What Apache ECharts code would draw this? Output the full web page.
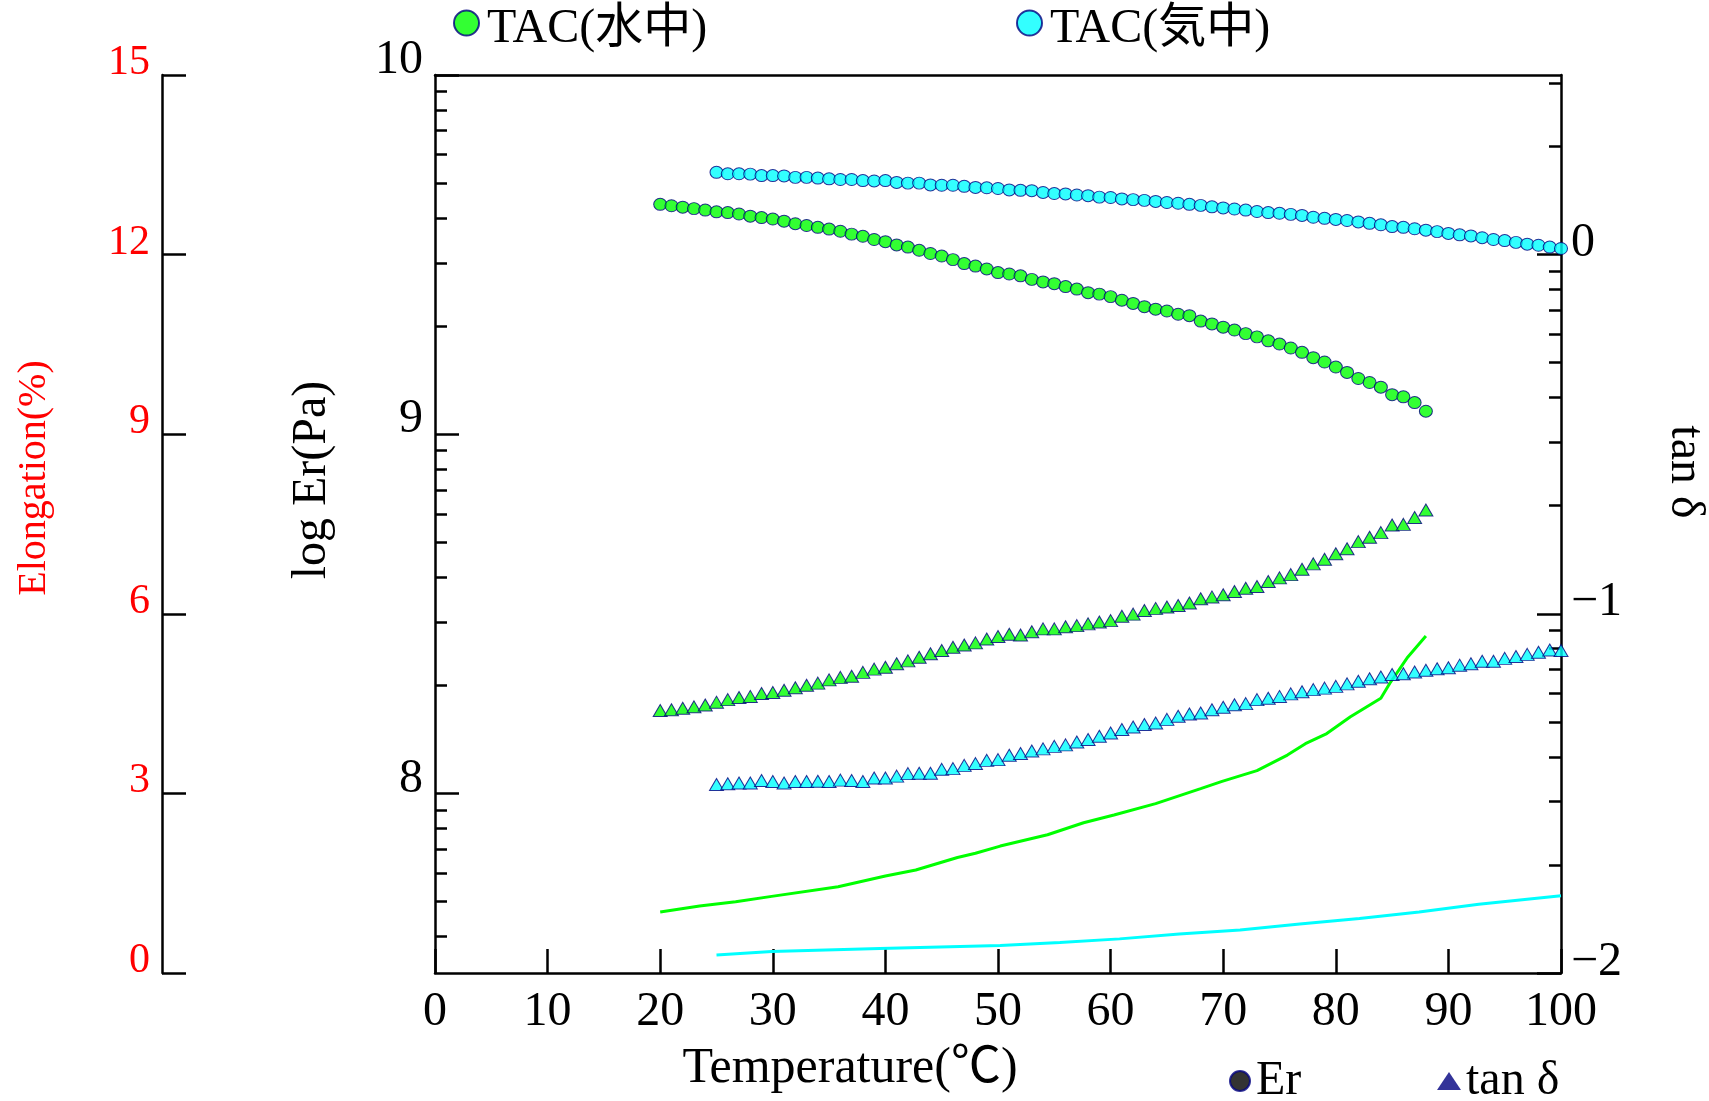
<!DOCTYPE html>
<html><head><meta charset="utf-8">
<script src="https://cdn.jsdelivr.net/npm/echarts@6/dist/echarts.min.js"></script>
<style>html,body{margin:0;padding:0;background:#fff}#c{width:1709px;height:1101px}</style>
</head><body><div id="c"></div>
<script>
const FONT = "'Liberation Serif','Noto Sans CJK JP',serif";

// temperatures (°C)
const tempWater = [20,21,22,23,24,25,26,27,28,29,30,31,32,33,34,35,36,37,38,39,40,41,42,43,44,45,46,47,48,49,50,51,52,53,54,55,56,57,58,59,60,61,62,63,64,65,66,67,68,69,70,71,72,73,74,75,76,77,78,79,80,81,82,83,84,85,86,87,88];
const tempAir = [25,26,27,28,29,30,31,32,33,34,35,36,37,38,39,40,41,42,43,44,45,46,47,48,49,50,51,52,53,54,55,56,57,58,59,60,61,62,63,64,65,66,67,68,69,70,71,72,73,74,75,76,77,78,79,80,81,82,83,84,85,86,87,88,89,90,91,92,93,94,95,96,97,98,99,100];

// log Er (Pa)
const erWater = [9.640,9.636,9.632,9.628,9.624,9.619,9.617,9.613,9.607,9.603,9.599,9.593,9.586,9.581,9.576,9.571,9.565,9.557,9.551,9.542,9.536,9.527,9.521,9.512,9.503,9.496,9.486,9.475,9.468,9.460,9.450,9.446,9.441,9.431,9.424,9.419,9.411,9.404,9.394,9.390,9.383,9.373,9.364,9.355,9.348,9.343,9.334,9.330,9.315,9.307,9.298,9.290,9.280,9.271,9.260,9.251,9.240,9.228,9.213,9.201,9.187,9.172,9.155,9.144,9.131,9.110,9.104,9.088,9.064];
const erAir = [9.729,9.725,9.725,9.724,9.720,9.720,9.719,9.715,9.715,9.713,9.711,9.709,9.709,9.706,9.705,9.706,9.701,9.699,9.699,9.694,9.693,9.693,9.690,9.687,9.686,9.684,9.680,9.679,9.678,9.673,9.670,9.669,9.666,9.664,9.660,9.659,9.655,9.653,9.651,9.648,9.645,9.643,9.640,9.637,9.633,9.630,9.627,9.624,9.620,9.617,9.615,9.612,9.609,9.604,9.601,9.598,9.595,9.591,9.587,9.583,9.578,9.576,9.572,9.568,9.564,9.559,9.555,9.552,9.547,9.542,9.539,9.534,9.529,9.526,9.521,9.517];

// log tan δ
const tanWater = [-1.269,-1.267,-1.263,-1.259,-1.254,-1.246,-1.239,-1.233,-1.230,-1.222,-1.219,-1.213,-1.206,-1.199,-1.193,-1.184,-1.177,-1.174,-1.163,-1.154,-1.149,-1.139,-1.131,-1.121,-1.111,-1.102,-1.093,-1.087,-1.081,-1.070,-1.063,-1.057,-1.059,-1.050,-1.042,-1.042,-1.036,-1.033,-1.028,-1.023,-1.019,-1.007,-1.001,-0.991,-0.985,-0.981,-0.977,-0.970,-0.958,-0.953,-0.947,-0.938,-0.929,-0.924,-0.910,-0.900,-0.891,-0.876,-0.861,-0.848,-0.833,-0.819,-0.799,-0.787,-0.774,-0.753,-0.751,-0.732,-0.711];
const tanAir = [-1.475,-1.473,-1.471,-1.471,-1.464,-1.467,-1.471,-1.467,-1.467,-1.466,-1.467,-1.463,-1.464,-1.467,-1.457,-1.457,-1.452,-1.445,-1.444,-1.444,-1.433,-1.431,-1.422,-1.417,-1.408,-1.406,-1.394,-1.389,-1.382,-1.376,-1.369,-1.365,-1.357,-1.350,-1.341,-1.332,-1.322,-1.315,-1.308,-1.304,-1.294,-1.285,-1.279,-1.276,-1.267,-1.260,-1.253,-1.250,-1.239,-1.235,-1.230,-1.223,-1.217,-1.211,-1.207,-1.202,-1.195,-1.188,-1.181,-1.176,-1.169,-1.167,-1.162,-1.157,-1.153,-1.150,-1.143,-1.139,-1.132,-1.132,-1.124,-1.119,-1.113,-1.107,-1.101,-1.102];

// Elongation (%)
const elongTempWater = [20.0,23.5,26.7,29.9,35.8,40.0,42.7,46.4,48.0,50.2,54.4,57.6,60.3,64.0,68.0,69.9,73.0,75.7,77.3,79.2,81.3,84.0,84.8,86.4,88.0];
const elongWater = [1.02,1.12,1.19,1.28,1.44,1.62,1.72,1.93,2.00,2.12,2.31,2.51,2.64,2.83,3.08,3.20,3.38,3.64,3.83,4.00,4.28,4.59,4.84,5.28,5.63];
const elongTempAir = [25.0,29.9,39.5,50.2,55.5,60.8,66.1,71.5,76.8,82.1,87.4,92.7,100.0];
const elongAir = [0.30,0.36,0.41,0.46,0.51,0.57,0.65,0.72,0.82,0.91,1.02,1.15,1.29];

// axis tick values
const xTicks = [0,10,20,30,40,50,60,70,80,90,100];
const erMajor = [8, 9, 10];
const erMinor = [7.602,7.699,7.778,7.845,7.903,7.954,8.301,8.477,8.602,8.699,8.778,8.845,8.903,8.954,9.301,9.477,9.602,9.699,9.778,9.845,9.903,9.954];
const tanMajor = [-2, -1, 0];
const tanMinor = [-1.699,-1.523,-1.398,-1.301,-1.222,-1.155,-1.097,-1.046,-0.699,-0.523,-0.398,-0.301,-0.222,-0.155,-0.097,-0.046,0.301,0.477];

const NAVY = '#000080', GREEN = '#00ff00', CYAN = '#00ffff';
const ELLIPSE = 'path://M0 50A50 50 0 1 1 100 50A50 50 0 1 1 0 50Z';
// legend icon: same ellipse, sitting in the upper part of a taller box
const ELLIPSE_HIGH = 'path://M0 148M0 50A50 50 0 1 1 100 50A50 50 0 1 1 0 50Z';
const pairs = (xs, ys) => xs.map((x, i) => [x, ys[i]]);

const xLine = { show: true, onZero: false, lineStyle: { color: '#000', width: 2.5 } };
const yLine = { show: true, lineStyle: { color: '#000', width: 2.5 } };
const tickStyle = { color: '#000', width: 2.5 };

const chart = echarts.init(document.getElementById('c'), null, { renderer: 'canvas' });
chart.setOption({
  animation: false,
  backgroundColor: '#fff',
  textStyle: { fontFamily: FONT },
  grid: { left: 435, top: 75, right: 148, bottom: 128, containLabel: false, outerBoundsMode: 'none' },
  legend: [
    { data: [{ name: 'TAC(水中)', icon: ELLIPSE_HIGH, itemStyle: { color: GREEN, borderColor: NAVY, borderWidth: 2 } }],
      left: 453, top: 5, padding: 0, itemWidth: 31, itemHeight: 37, selectedMode: false,
      textStyle: { fontSize: 48, color: '#000', fontFamily: FONT } },
    { data: [{ name: 'TAC(気中)', icon: ELLIPSE_HIGH, itemStyle: { color: CYAN, borderColor: NAVY, borderWidth: 2 } }],
      left: 1016, top: 5, padding: 0, itemWidth: 31, itemHeight: 37, selectedMode: false,
      textStyle: { fontSize: 48, color: '#000', fontFamily: FONT } },
    { data: [{ name: 'Er', icon: ELLIPSE, itemStyle: { color: '#000', borderColor: NAVY, borderWidth: 2 } }],
      left: 1229, top: 1057, padding: 0, itemWidth: 22, itemHeight: 20, selectedMode: false,
      textStyle: { fontSize: 48, color: '#000', fontFamily: FONT, padding: [10, 0, 0, 0] } },
    { data: [{ name: 'tan δ', icon: 'triangle', itemStyle: { color: NAVY, borderWidth: 0 } }],
      left: 1437, top: 1057, padding: 0, itemWidth: 24, itemHeight: 18, selectedMode: false,
      textStyle: { fontSize: 48, color: '#000', fontFamily: FONT, padding: [10, 0, 0, 0] } }
  ],
  xAxis: [
    { type: 'value', position: 'bottom', min: 0, max: 100, interval: 10,
      axisLine: xLine, axisTick: { inside: true, length: 24, lineStyle: tickStyle, customValues: xTicks },
      axisLabel: { fontSize: 48, color: '#000', margin: 15, fontFamily: FONT, customValues: xTicks },
      splitLine: { show: false },
      name: 'Temperature(℃)', nameLocation: 'middle', nameGap: 71,
      nameTextStyle: { fontSize: 50, color: '#000', fontFamily: FONT, padding: [0, 296, 0, 0] } },
    { type: 'value', position: 'top', min: 0, max: 100, interval: 10,
      axisLine: xLine, axisTick: { show: false }, axisLabel: { show: false }, splitLine: { show: false } }
  ],
  yAxis: [
    { type: 'value', position: 'left', min: 7.5, max: 10,
      axisLine: yLine, axisTick: { inside: true, length: 24, lineStyle: tickStyle, customValues: erMajor },
      axisLabel: { customValues: erMajor, fontSize: 48, color: '#000', fontFamily: FONT, margin: 12, verticalAlign: 'bottom', lineHeight: 29 },
      splitLine: { show: false },
      name: 'log Er(Pa)', nameLocation: 'middle', nameGap: 99, nameRotate: 90,
      nameTextStyle: { fontSize: 48, color: '#000', fontFamily: FONT, padding: [0, 0, 0, 88] } },
    { type: 'value', position: 'left', min: 7.5, max: 10,
      axisLine: { show: false }, axisTick: { inside: true, length: 12, lineStyle: tickStyle, customValues: erMinor },
      axisLabel: { show: false }, splitLine: { show: false } },
    { type: 'value', position: 'left', offset: 273, min: 0, max: 15, interval: 3,
      axisLine: yLine, axisTick: { inside: true, length: 24, lineStyle: tickStyle },
      axisLabel: { fontSize: 42, color: '#ff0000', fontFamily: FONT, margin: 12, verticalAlign: 'bottom', lineHeight: 24 },
      splitLine: { show: false },
      name: 'Elongation(%)', nameLocation: 'middle', nameGap: 108, nameRotate: 90,
      nameTextStyle: { fontSize: 40, color: '#ff0000', fontFamily: FONT, padding: [0, 0, 0, 92] } },
    { type: 'value', position: 'right', min: -2, max: 0.5,
      axisLine: yLine, axisTick: { inside: true, length: 24, lineStyle: tickStyle, customValues: tanMajor },
      axisLabel: { customValues: tanMajor, fontSize: 48, color: '#000', fontFamily: FONT, margin: 10, verticalAlign: 'bottom', lineHeight: 22,
        formatter: v => (v < 0 ? '\u2212' + Math.abs(v) : String(v)) },
      splitLine: { show: false },
      name: 'tan δ', nameLocation: 'middle', nameGap: 100, nameRotate: -90,
      nameTextStyle: { fontSize: 48, color: '#000', fontFamily: FONT, padding: [0, 104, 0, 0] } },
    { type: 'value', position: 'right', min: -2, max: 0.5,
      axisLine: { show: false }, axisTick: { inside: true, length: 12, lineStyle: tickStyle, customValues: tanMinor },
      axisLabel: { show: false }, splitLine: { show: false } }
  ],
  series: [
    { name: 'Elongation 水中', type: 'line', yAxisIndex: 2, data: pairs(elongTempWater, elongWater),
      showSymbol: false, lineStyle: { color: GREEN, width: 3 }, z: 2 },
    { name: 'Elongation 気中', type: 'line', yAxisIndex: 2, data: pairs(elongTempAir, elongAir),
      showSymbol: false, lineStyle: { color: CYAN, width: 3 }, z: 2 },
    { name: 'tanδ 水中', type: 'scatter', yAxisIndex: 3, data: pairs(tempWater, tanWater),
      symbol: 'triangle', symbolSize: [14, 12], itemStyle: { color: GREEN, borderColor: NAVY, borderWidth: 1 }, z: 3 },
    { name: 'tanδ 気中', type: 'scatter', yAxisIndex: 3, data: pairs(tempAir, tanAir),
      symbol: 'triangle', symbolSize: [14, 12], itemStyle: { color: CYAN, borderColor: NAVY, borderWidth: 1 }, z: 3 },
    { name: 'TAC(水中)', type: 'scatter', yAxisIndex: 0, data: pairs(tempWater, erWater),
      symbol: ELLIPSE, symbolSize: [13, 12], itemStyle: { color: GREEN, borderColor: NAVY, borderWidth: 1 }, z: 4 },
    { name: 'TAC(気中)', type: 'scatter', yAxisIndex: 0, data: pairs(tempAir, erAir),
      symbol: ELLIPSE, symbolSize: [13, 12], itemStyle: { color: CYAN, borderColor: NAVY, borderWidth: 1 }, z: 4 },
    { name: 'Er', type: 'scatter', data: [], symbol: ELLIPSE, itemStyle: { color: '#000', borderColor: NAVY } },
    { name: 'tan δ', type: 'scatter', data: [], symbol: 'triangle', itemStyle: { color: NAVY } }
  ]
});
</script></body></html>
